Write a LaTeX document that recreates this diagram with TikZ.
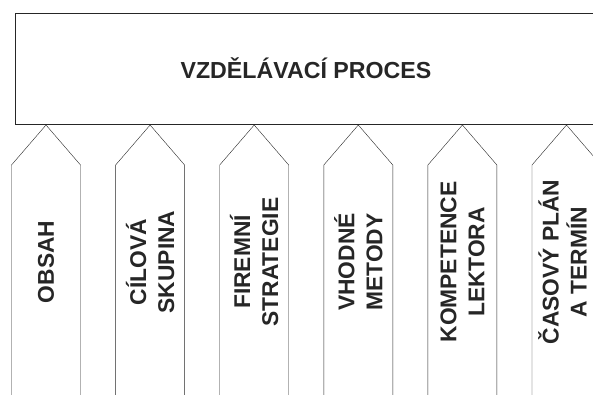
\documentclass[tikz,border=0pt]{standalone}
\usepackage{fontspec}
\setmainfont{Liberation Sans}
\definecolor{ink}{HTML}{262626}

\begin{document}
\begin{tikzpicture}[x=1pt,y=-1pt]
  \tikzset{line width=1.5pt,
    procbox/.style={draw=ink, minimum width=582pt, minimum height=111pt,
      font=\fontsize{23.2}{27}\selectfont\bfseries, text=ink},
    sidelabel/.style={rotate=90, align=center, text=ink, inner sep=0pt,
      font=\fontsize{22.8}{28}\selectfont\bfseries}}
  \useasboundingbox (0,0) rectangle (593,394);
  \clip (0,0) rectangle (593,394);

  \node[procbox] (proces) at (306,68.5) {VZDĚLÁVACÍ PROCES};

  \foreach \name/\txt/\dx [count=\i from 0] in {obsah/OBSAH/0, cilova/{CÍLOVÁ\\SKUPINA}/0,
      firemni/{FIREMNÍ\\STRATEGIE}/0, metody/{VHODNÉ\\METODY}/0,
      lektor/{KOMPETENCE\\LEKTORA}/0, plan/{ČASOVÝ PLÁN\\A TERMÍN}/-4} {
    \pgfmathsetmacro{\cx}{46+104.1*\i}
    \draw[ink] ({\cx-34.5},400) -- ({\cx-34.5},165) -- (\cx,125)
      -- ({\cx+34.5},165) -- ({\cx+34.5},400);
    \node[sidelabel] (\name) at ({\cx+\dx},262) {\txt};
  }
\end{tikzpicture}
\end{document}
